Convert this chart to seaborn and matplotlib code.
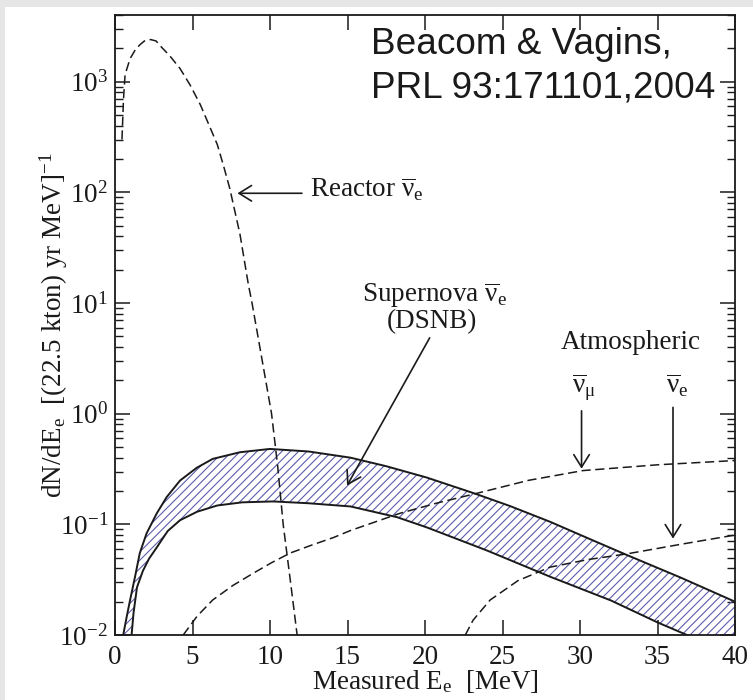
import numpy as np
import pandas as pd
import matplotlib
matplotlib.use("Agg")
import matplotlib.pyplot as plt
import seaborn as sns
from matplotlib.ticker import NullLocator, LogLocator
from matplotlib.patches import Rectangle

# ---------------- data ----------------
reactor_E = [0.45, 0.55, 0.65, 0.97, 1.3, 1.6, 1.9, 2.3, 2.65, 3.0, 3.55, 4.2, 4.85, 5.5, 6.05, 6.6,
             7.0, 7.4, 8.06, 8.6, 8.84, 9.5, 10.1, 10.5, 10.85, 11.3, 11.75]
reactor_R = [300, 700, 1156, 1610, 1930, 2150, 2330, 2400, 2330, 2050, 1700, 1310, 930, 621, 410, 270,
             174, 109, 42, 14.8, 10, 3.0, 1.0, 0.33, 0.1, 0.032, 0.01]

dsnb_hi_E = [0.53, 0.75, 0.97, 1.29, 1.6, 2.04, 2.7, 3.33, 4.2, 5.27, 6.3, 8.06, 10.0, 12.5, 15.2,
             17.5, 20.1, 23.2, 25.5, 28.1, 30.5, 33.0, 36.5, 40.0]
dsnb_hi_R = [0.01, 0.0145, 0.0206, 0.0335, 0.055, 0.083, 0.126, 0.176, 0.249, 0.324, 0.39, 0.448, 0.48,
             0.455, 0.40, 0.335, 0.265, 0.19, 0.146, 0.105, 0.075, 0.053, 0.033, 0.020]

dsnb_lo_E = [1.07, 1.2, 1.42, 1.8, 2.2, 2.7, 3.4, 4.2, 5.3, 6.6, 8.2, 10.2, 12.5, 15.2, 18.2, 20.1,
             24.0, 28.1, 32.0, 35.0, 36.9, 40.0]
dsnb_lo_R = [0.01, 0.016, 0.027, 0.038, 0.049, 0.062, 0.087, 0.109, 0.13, 0.148, 0.158, 0.161, 0.155,
             0.145, 0.116, 0.094, 0.058, 0.0335, 0.0205, 0.013, 0.01, 0.0066]

atm_mu_E = [4.4, 5.3, 6.3, 7.6, 8.9, 10.1, 11.3, 12.7, 14.1, 15.2, 18.4, 20.8, 23.3, 26.7, 30.2, 35.0, 40.0]
atm_mu_R = [0.01, 0.0148, 0.0207, 0.028, 0.036, 0.045, 0.055, 0.065, 0.076, 0.088, 0.126, 0.156, 0.19,
            0.25, 0.306, 0.345, 0.377]

atm_e_E = [22.6, 23.1, 24.2, 26.0, 28.06, 30.5, 33.0, 36.5, 40.0]
atm_e_R = [0.01, 0.0136, 0.0207, 0.031, 0.041, 0.048, 0.054, 0.066, 0.080]

x_ticks = [0, 5, 10, 15, 20, 25, 30, 35, 40]

# ---------------- style ----------------
sns.set_theme(style="ticks")
plt.rcParams.update({
    "mathtext.fontset": "custom",
    "mathtext.rm": "Liberation Serif",
    "mathtext.it": "Liberation Serif:italic",
    "mathtext.bf": "Liberation Serif:bold",
    "hatch.linewidth": 0.8,
    "axes.linewidth": 1.3,
    "axes.unicode_minus": False,
})
plt.rcParams["font.family"] = ["Liberation Serif", "DejaVu Serif"]

FS = 19.5
W, H = 753, 700
fig = plt.figure(figsize=(W / 100, H / 100), dpi=100, facecolor="#e6e6e6")
fig.add_artist(Rectangle((5 / W, 0), 1, 1 - 7 / H, transform=fig.transFigure,
                         facecolor="white", edgecolor="none", zorder=-10))
L, R, T, B = 115, 735, 15, 635
ax = fig.add_axes([L / W, 1 - B / H, (R - L) / W, (B - T) / H])
ax.set_facecolor("white")


def axf(px, py):
    return ((px - L) / (R - L), (B - py) / (B - T))


# ---------------- band ----------------
poly_E = np.r_[dsnb_hi_E, dsnb_lo_E[::-1]]
poly_R = np.r_[dsnb_hi_R, dsnb_lo_R[::-1]]
ax.fill(poly_E, poly_R, facecolor="none", edgecolor="#5b5bab", hatch="////", linewidth=0, zorder=1)

dash = (0, (6, 3))
for E, Rv, ls, lw in [
    (reactor_E, reactor_R, dash, 1.1),
    (atm_mu_E, atm_mu_R, dash, 1.1),
    (atm_e_E, atm_e_R, dash, 1.1),
    (dsnb_hi_E, dsnb_hi_R, "-", 1.4),
    (dsnb_lo_E, dsnb_lo_R, "-", 1.4),
]:
    df = pd.DataFrame({"E": E, "R": Rv})
    sns.lineplot(data=df, x="E", y="R", ax=ax, color="k", linestyle=ls, linewidth=lw,
                 estimator=None, sort=False, zorder=3)

ax.set_yscale("log")
ax.set_xlim(0, 40)
ax.set_ylim(1e-2, 4e3)
ax.set_xticks(x_ticks)
ax.set_xticklabels([str(t) for t in x_ticks])
ax.xaxis.set_minor_locator(NullLocator())
ax.yaxis.set_major_locator(LogLocator(base=10, numticks=20))
ax.yaxis.set_minor_locator(LogLocator(base=10, subs=np.arange(2, 10), numticks=20))
ax.tick_params(which="both", direction="in", top=True, right=True, colors="k", labelsize=FS)
ax.tick_params(which="major", length=11, width=1.1)
ax.tick_params(which="minor", length=6, width=1.0)
ax.tick_params(axis="x", which="major", pad=7)
ax.tick_params(axis="y", which="major", pad=5)
for s in ax.spines.values():
    s.set_color("k")

ax.set_xlabel(r"Measured E$_\mathrm{e}$  [MeV]", fontsize=FS, color="k", labelpad=-1)
ax.set_ylabel(r"dN/dE$_\mathrm{e}$  [(22.5 kton) yr MeV]$^{-1}$", fontsize=FS, color="k")
ax.yaxis.set_label_coords(-0.0726, 0.5)

# ---------------- annotations ----------------
arrow = dict(arrowstyle="->,head_length=0.45,head_width=0.28", color="k", lw=1.2,
             shrinkA=0, shrinkB=0, mutation_scale=20)
ax.annotate("", xy=(7.9, 98), xytext=(12.06, 98), arrowprops=arrow, zorder=4)
ax.text(*axf(310, 197), r"Reactor $\overline{\mathrm{\nu}}_\mathrm{e}$", transform=ax.transAxes,
        fontsize=FS, ha="left", va="baseline", color="k")

ax.annotate("", xy=(14.97, 0.224), xytext=(20.3, 4.84), arrowprops=arrow, zorder=4)
ax.text(*axf(362, 302), r"Supernova $\overline{\mathrm{\nu}}_\mathrm{e}$", transform=ax.transAxes,
        fontsize=FS, ha="left", va="baseline", color="k")
ax.text(*axf(387, 328), "(DSNB)", transform=ax.transAxes,
        fontsize=FS, ha="left", va="baseline", color="k")

ax.text(*axf(561, 349), "Atmospheric", transform=ax.transAxes,
        fontsize=FS, ha="left", va="baseline", color="k")
ax.text(*axf(572, 393), r"$\overline{\mathrm{\nu}}_\mathrm{\mu}$", transform=ax.transAxes,
        fontsize=FS, ha="left", va="baseline", color="k")
ax.text(*axf(666, 393), r"$\overline{\mathrm{\nu}}_\mathrm{e}$", transform=ax.transAxes,
        fontsize=FS, ha="left", va="baseline", color="k")
ax.annotate("", xy=(30.1, 0.318), xytext=(30.1, 1.06), arrowprops=arrow, zorder=4)
ax.annotate("", xy=(36.0, 0.0743), xytext=(36.0, 1.14), arrowprops=arrow, zorder=4)

ax.text(*axf(371, 54), "Beacom & Vagins,", transform=ax.transAxes, fontsize=26.6,
        family=["Liberation Sans", "DejaVu Sans"], ha="left", va="baseline", color="k")
ax.text(*axf(371, 97), "PRL 93:171101,2004", transform=ax.transAxes, fontsize=26.6,
        family=["Liberation Sans", "DejaVu Sans"], ha="left", va="baseline", color="k")

fig.savefig("out.png", dpi=100, facecolor=fig.get_facecolor())
